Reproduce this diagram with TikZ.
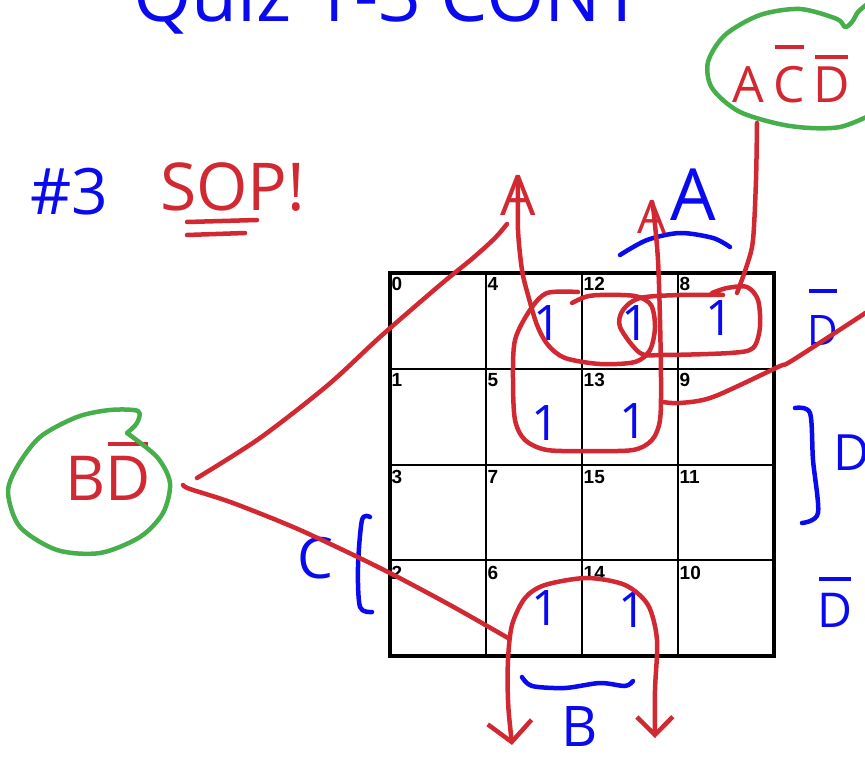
\documentclass[tikz,border=0pt]{standalone}
\usepackage{fontspec}
\setmainfont{Open Sans}
\newfontfamily\cellfont{Liberation Sans}
\usetikzlibrary{arrows.meta}

\definecolor{inkblue}{RGB}{10,10,240}
\definecolor{inkred}{RGB}{210,40,50}
\definecolor{inkgreen}{RGB}{70,175,75}

% letter with a hand-drawn bar over it: [gap]{letter}
\newcommand\barover[2][10pt]{\setbox0\hbox{#2}\vbox{\offinterlineskip\hbox to\wd0{\hss\vrule width .9\wd0 height 4pt\hss}\kern#1\box0}}

\begin{document}
\begin{tikzpicture}[
        x=1pt, y=-1pt,
        ink/.style={line width=4.5pt, line cap=round, line join=round},
        redink/.style={ink, draw=inkred},
        blueink/.style={ink, draw=inkblue},
        greenink/.style={ink, draw=inkgreen},
        hand/.style={inner sep=0pt, anchor=base, font=\fontsize{#1}{#1}\selectfont},
        redlbl/.style={hand=#1, text=inkred},
        bluelbl/.style={hand=#1, text=inkblue},
        cellnum/.style={anchor=north west, inner sep=0pt, font=\cellfont\bfseries\fontsize{19}{19}\selectfont},
        gridline/.style={line width=2pt}
    ]
        \useasboundingbox (0,0) rectangle (865,757);

        % --- heading (cut off at the top) ---
        \node[bluelbl=75, anchor=base west] (quiztitle) at (133,22) {Quiz 1-3 CONT};
        \node[bluelbl=64, anchor=base west] (probnum) at (30,214) {\#3};
        \node[redlbl=66, anchor=base west] (soplbl) at (160,211) {SOP!};
        \draw[redink] (187,222) -- (257,220);
        \draw[redink] (187,235) -- (245,233);

        % --- K-map grid ---
        \foreach \i in {1,2,3} {
            \draw[gridline] (390+96*\i,273) -- (390+96*\i,656);
            \draw[gridline] (390,273+95.75*\i) -- (774,273+95.75*\i);
        }
        \draw[line width=4pt] (390,273) rectangle (774,656);
        \foreach \c/\cv in {0/0,1/4,2/12,3/8}
            \foreach \r/\rv in {0/0,1/1,2/3,3/2} {
                \pgfmathtruncatemacro\num{\cv+\rv}
                \node[cellnum] (cell\num) at (391.5+96*\c, 277+96.5*\r) {\num};
            }

        % --- the ones ---
        \foreach \x/\y/\c in {548/340/4, 636/340/12, 720/335/8, 546/440/5, 634/438/13, 546/625/6, 633/627/14}
            \node[bluelbl=49] (one\c) at (\x,\y) {1};

        % --- variable labels ---
        \node[bluelbl=72] (atop) at (693,220) {A};
        \draw[blueink] plot[smooth] coordinates {(620,255) (647,240) (680,233) (713,238) (730,247)};
        \node[bluelbl=56] (bbot) at (580,746) {B};
        \draw[blueink] plot[smooth] coordinates {(522,677) (532,686) (565,688) (600,683) (625,686) (633,681)};
        \node[bluelbl=57] (cleft) at (315,578) {C};
        \draw[blueink] plot[smooth] coordinates {(370,517) (362,520) (358,567) (360,607) (372,612)};
        \node[bluelbl=42] (dbartop) at (823,345) {\barover[22pt]{D}};
        \node[bluelbl=50, anchor=base west] (dright) at (833,470) {D};
        \draw[blueink] plot[smooth] coordinates {(795,408) (810,413) (813,460) (818,513) (802,523)};
        \node[bluelbl=48] (dbarbot) at (835,627) {\barover[12pt]{D}};

        % --- terms ---
        \node[redlbl=62] (bdterm) at (108,500) {B\barover[10pt]{D}};
        \draw[greenink] plot[smooth] coordinates {(127,433) (157,457) (170,483) (163,513) (140,537) (100,553) (57,550) (20,527) (8,493) (17,467) (40,437) (77,417) (110,410) (138,411) (137,423) (127,433)};
        \node[redlbl=50, anchor=base west] (acdterm) at (732,103) {A\hspace{10pt}\barover[18pt]{C}\hspace{8pt}\barover[8pt]{D}};
        \draw[greenink] plot[smooth] coordinates {(885,108) (840,127) (790,126) (740,112) (712,88) (708,62) (725,35) (760,15) (800,9) (837,19) (845,27) (852,22) (858,12) (866,5)};
        \node[redlbl=56] (aone) at (518,215) {A};
        \node[redlbl=46] (atwo) at (652,233) {A};

        % --- groups ---
        \draw[redink] plot[smooth] coordinates {(518,180) (518,230) (522,270) (528,295) (537,325) (548,345) (565,358) (600,364) (635,362) (650,350) (655,327) (651,305) (635,296) (600,295) (585,297) (572,303)};
        \draw[redink] plot[smooth] coordinates {(578,292) (547,293) (530,310) (515,340) (513,380) (515,420) (525,440) (547,450) (590,451) (633,450) (652,440) (660,420) (661,380) (660,320) (658,260) (654,215) (652,202)};
        \draw[redink] plot[smooth] coordinates {(712,293) (727,288) (747,287) (758,300) (760,327) (753,348) (730,353) (663,355) (640,353) (620,327) (623,310) (640,298) (680,295) (723,295)};
        \draw[redink, {Straight Barb[length=20pt,width=44pt]}-{Straight Barb[length=18pt,width=36pt]}] plot[smooth] coordinates {(512,745) (508,700) (508,660) (512,625) (525,598) (545,585) (587,578) (625,585) (648,605) (657,640) (655,690) (655,738)};

        % --- links ---
        \draw[redink] plot[smooth] coordinates {(757,123) (756,180) (753,240) (747,265) (737,293)};
        \draw[redink] plot[smooth] coordinates {(197,478) (260,438) (328,385) (380,337) (440,285) (473,258) (495,238) (507,224)};
        \draw[redink] plot[smooth] coordinates {(183,485) (190,489) (233,503) (300,530) (380,568) (450,605) (508,638)};
        \draw[redink] plot[smooth] coordinates {(663,402) (680,403) (713,397) (778,367) (793,360) (870,310)};
\end{tikzpicture}
\end{document}
